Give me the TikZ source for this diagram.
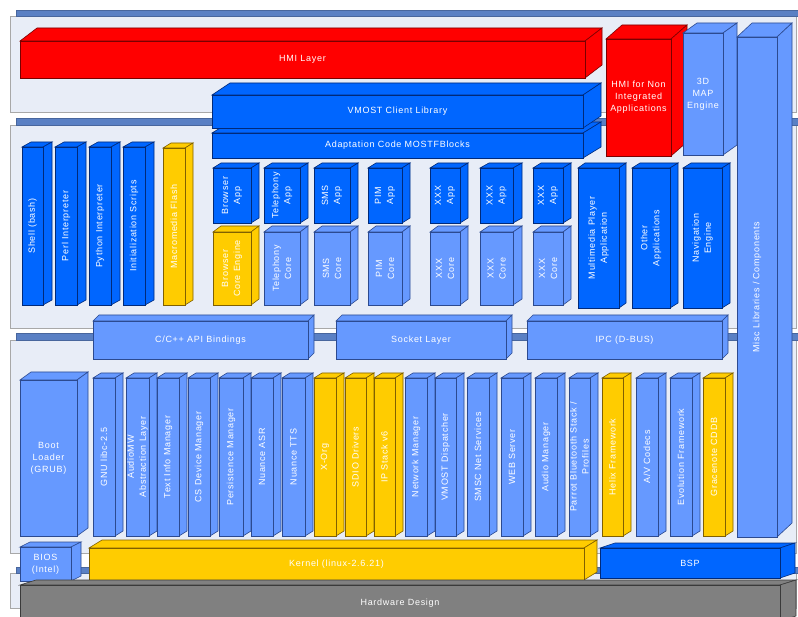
\documentclass[tikz,border=0pt]{standalone}
\usepackage{fontspec}
\newfontfamily\labfam{Liberation Sans}[LetterSpace=8.0]
\definecolor{cR}{HTML}{FF0000}\definecolor{cRd}{HTML}{7A0000}
\definecolor{cB}{HTML}{0066FF}\definecolor{cBd}{HTML}{002A7A}
\definecolor{cL}{HTML}{6699FF}\definecolor{cLd}{HTML}{2C4A90}
\definecolor{cY}{HTML}{FFCC00}\definecolor{cYd}{HTML}{806000}
\definecolor{cG}{HTML}{808080}\definecolor{cGd}{HTML}{3A3A3A}
\definecolor{panelfill}{HTML}{E8EDF7}\definecolor{paneledge}{HTML}{A8A8A8}
\definecolor{panelbar}{HTML}{5A80C4}
\tikzset{
  cred/.style={fill=cR,draw=cRd,line width=0.6pt},
  cblue/.style={fill=cB,draw=cBd,line width=0.6pt},
  clb/.style={fill=cL,draw=cLd,line width=0.6pt},
  cyel/.style={fill=cY,draw=cYd,line width=0.6pt},
  cgray/.style={fill=cG,draw=cGd,line width=0.6pt},
  box/.style={inner sep=0pt,outer sep=0pt},
  lab/.style={text=white,font=\labfam\fontsize{9}{12}\selectfont,align=center,inner sep=0pt},
  panelbody/.style={fill=panelfill,draw=paneledge,line width=0.8pt},
  panelhead/.style={fill=panelbar,draw=panelbar!80!black,line width=0.4pt}
}
\newcommand{\cubeshape}[8]{%
  \path[#8] (#2,#3) -- (#2+#6,#3-#7) -- (#4+#6,#3-#7) -- (#4,#3) -- cycle;
  \path[#8] (#4,#3) -- (#4+#6,#3-#7) -- (#4+#6,#5-#7) -- (#4,#5) -- cycle;
  \node[#8,box,anchor=north west,minimum width={(#4-#2)*1pt},minimum height={(#5-#3)*1pt}] (#1) at (#2,#3) {};}
\newcommand{\hcube}[9]{\cubeshape{#1}{#2}{#3}{#4}{#5}{#6}{#7}{#8}\node[lab] (#1-t) at (#1.center) {#9};}
\newcommand{\vcube}[9]{\cubeshape{#1}{#2}{#3}{#4}{#5}{#6}{#7}{#8}\node[lab,rotate=90] (#1-t) at (#1.center) {#9};}
\begin{document}
\begin{tikzpicture}[x=1pt,y=-1pt]
\useasboundingbox (0,0) rectangle (798,617);
\clip (0,0) rectangle (798,617);
\fill[white] (0,0) rectangle (798,617);
% panels
\path[panelbody] (10,16) rectangle (796,112);
\path[panelhead] (16,10) rectangle (798,16);
\path[panelbody] (10,125) rectangle (796,328);
\path[panelhead] (16,118) rectangle (798,125);
\path[panelbody] (10,340) rectangle (796,553);
\path[panelhead] (16,333) rectangle (798,340);
\path[panelbody] (10,573) rectangle (796,608);
\path[panelhead] (16,567) rectangle (798,573);
% top layer
\hcube{hmi}{20}{41}{585}{78}{17}{13}{cred}{HMI Layer}
\hcube{hmin}{606}{39}{671}{156}{16}{14}{cred}{HMI for Non\\Integrated\\Applications}
\hcube{map}{683}{33}{723}{155}{14}{10}{clb}{3D\\MAP\\Engine}
\vcube{misc}{737}{37}{777}{537}{15}{14}{clb}{Misc Libraries / Components}
\hcube{adapt}{212}{133}{583}{158}{18}{11}{cblue}{Adaptation Code MOSTFBlocks}
\hcube{vmost}{212}{95}{583}{128}{18}{12}{cblue}{VMOST Client Library}
% middle layer
\vcube{shell}{22}{147}{43}{305}{9}{5}{cblue}{Shell (bash)}
\vcube{perl}{55}{147}{77}{305}{9}{5}{cblue}{Perl Interpreter}
\vcube{python}{89}{147}{111}{305}{9}{5}{cblue}{Python Interpreter}
\vcube{init}{123}{147}{145}{305}{9}{5}{cblue}{Initialization Scripts}
\vcube{flash}{163}{148}{185}{305}{8}{5}{cyel}{Macromedia Flash}
\vcube{brapp}{213}{168}{251}{223}{8}{5}{cblue}{Browser\\App}
\vcube{brcore}{213}{232}{251}{305}{8}{6}{cyel}{Browser\\Core Engine}
\vcube{telapp}{264}{168}{300}{223}{8}{5}{cblue}{Telephony\\App}
\vcube{telcore}{264}{232}{300}{305}{8}{6}{clb}{Telephony\\Core}
\vcube{smsapp}{314}{168}{350}{223}{8}{5}{cblue}{SMS\\App}
\vcube{smscore}{314}{232}{350}{305}{8}{6}{clb}{SMS\\Core}
\vcube{pimapp}{368}{168}{402}{223}{8}{5}{cblue}{PIM\\App}
\vcube{pimcore}{368}{232}{402}{305}{8}{6}{clb}{PIM\\Core}
\vcube{xapp1}{430}{168}{460}{223}{8}{5}{cblue}{XXX\\App}
\vcube{xcore1}{430}{232}{460}{305}{8}{6}{clb}{XXX\\Core}
\vcube{xapp2}{480}{168}{513}{223}{9}{5}{cblue}{XXX\\App}
\vcube{xcore2}{480}{232}{513}{305}{9}{6}{clb}{XXX\\Core}
\vcube{xapp3}{533}{168}{563}{223}{8}{5}{cblue}{XXX\\App}
\vcube{xcore3}{533}{232}{563}{305}{8}{6}{clb}{XXX\\Core}
\vcube{mmp}{578}{168}{619}{308}{7}{5}{cblue}{Multimedia Player\\Application}
\vcube{other}{632}{168}{670}{308}{8}{5}{cblue}{Other\\Applications}
\vcube{nav}{683}{168}{722}{308}{8}{5}{cblue}{Navigation\\Engine}
% bindings
\hcube{capi}{93}{321}{308}{359}{6}{6}{clb}{C/C++ API Bindings}
\hcube{sock}{336}{321}{506}{359}{6}{6}{clb}{Socket Layer}
\hcube{ipc}{527}{321}{722}{359}{6}{6}{clb}{IPC (D-BUS)}
% lower layer
\hcube{boot}{20}{380}{77}{536}{11}{8}{clb}{Boot\\Loader\\(GRUB)}
\vcube{libc}{93}{378}{115}{536}{8}{5}{clb}{GNU libc-2.5}
\vcube{amw}{126}{378}{149}{536}{8}{5}{clb}{AudioMW\\Abstraction Layer}
\vcube{tim}{157}{378}{179}{536}{8}{5}{clb}{Text Info Manager}
\vcube{csd}{188}{378}{210}{536}{8}{5}{clb}{CS Device Manager}
\vcube{pers}{219}{378}{243}{536}{8}{5}{clb}{Persistence Manager}
\vcube{asr}{251}{378}{273}{536}{8}{5}{clb}{Nuance ASR}
\vcube{tts}{282}{378}{305}{536}{8}{5}{clb}{Nuance TTS}
\vcube{xorg}{314}{378}{336}{536}{8}{5}{cyel}{X-Org}
\vcube{sdio}{345}{378}{366}{536}{8}{5}{cyel}{SDIO Drivers}
\vcube{ipst}{374}{378}{395}{536}{8}{5}{cyel}{IP Stack v6}
\vcube{netm}{405}{378}{427}{536}{8}{5}{clb}{Network Manager}
\vcube{vdisp}{435}{378}{456}{536}{8}{5}{clb}{VMOST Dispatcher}
\vcube{smsc}{467}{378}{489}{536}{8}{5}{clb}{SMSC Net Services}
\vcube{web}{501}{378}{523}{536}{8}{5}{clb}{WEB Server}
\vcube{audm}{535}{378}{557}{536}{8}{5}{clb}{Audio Manager}
\vcube{bt}{569}{378}{590}{536}{8}{5}{clb}{Parrot Bluetooth Stack /\\Profiles}
\vcube{helix}{602}{378}{623}{536}{8}{5}{cyel}{Helix Framework}
\vcube{avc}{636}{378}{658}{536}{8}{5}{clb}{A/V Codecs}
\vcube{evo}{670}{378}{692}{536}{8}{5}{clb}{Evolution Framework}
\vcube{gn}{703}{378}{725}{536}{8}{5}{cyel}{Gracenote CDDB}
% base
\hcube{bios}{20}{547}{71}{581}{10}{5}{clb}{BIOS\\(Intel)}
\hcube{kernel}{89}{548}{584}{580}{13}{8}{cyel}{Kernel (linux-2.6.21)}
\hcube{bsp}{600}{548}{780}{578}{15}{5}{cblue}{BSP}
\hcube{hw}{20}{585}{780}{621}{16}{5}{cgray}{Hardware Design}
\end{tikzpicture}
\end{document}
